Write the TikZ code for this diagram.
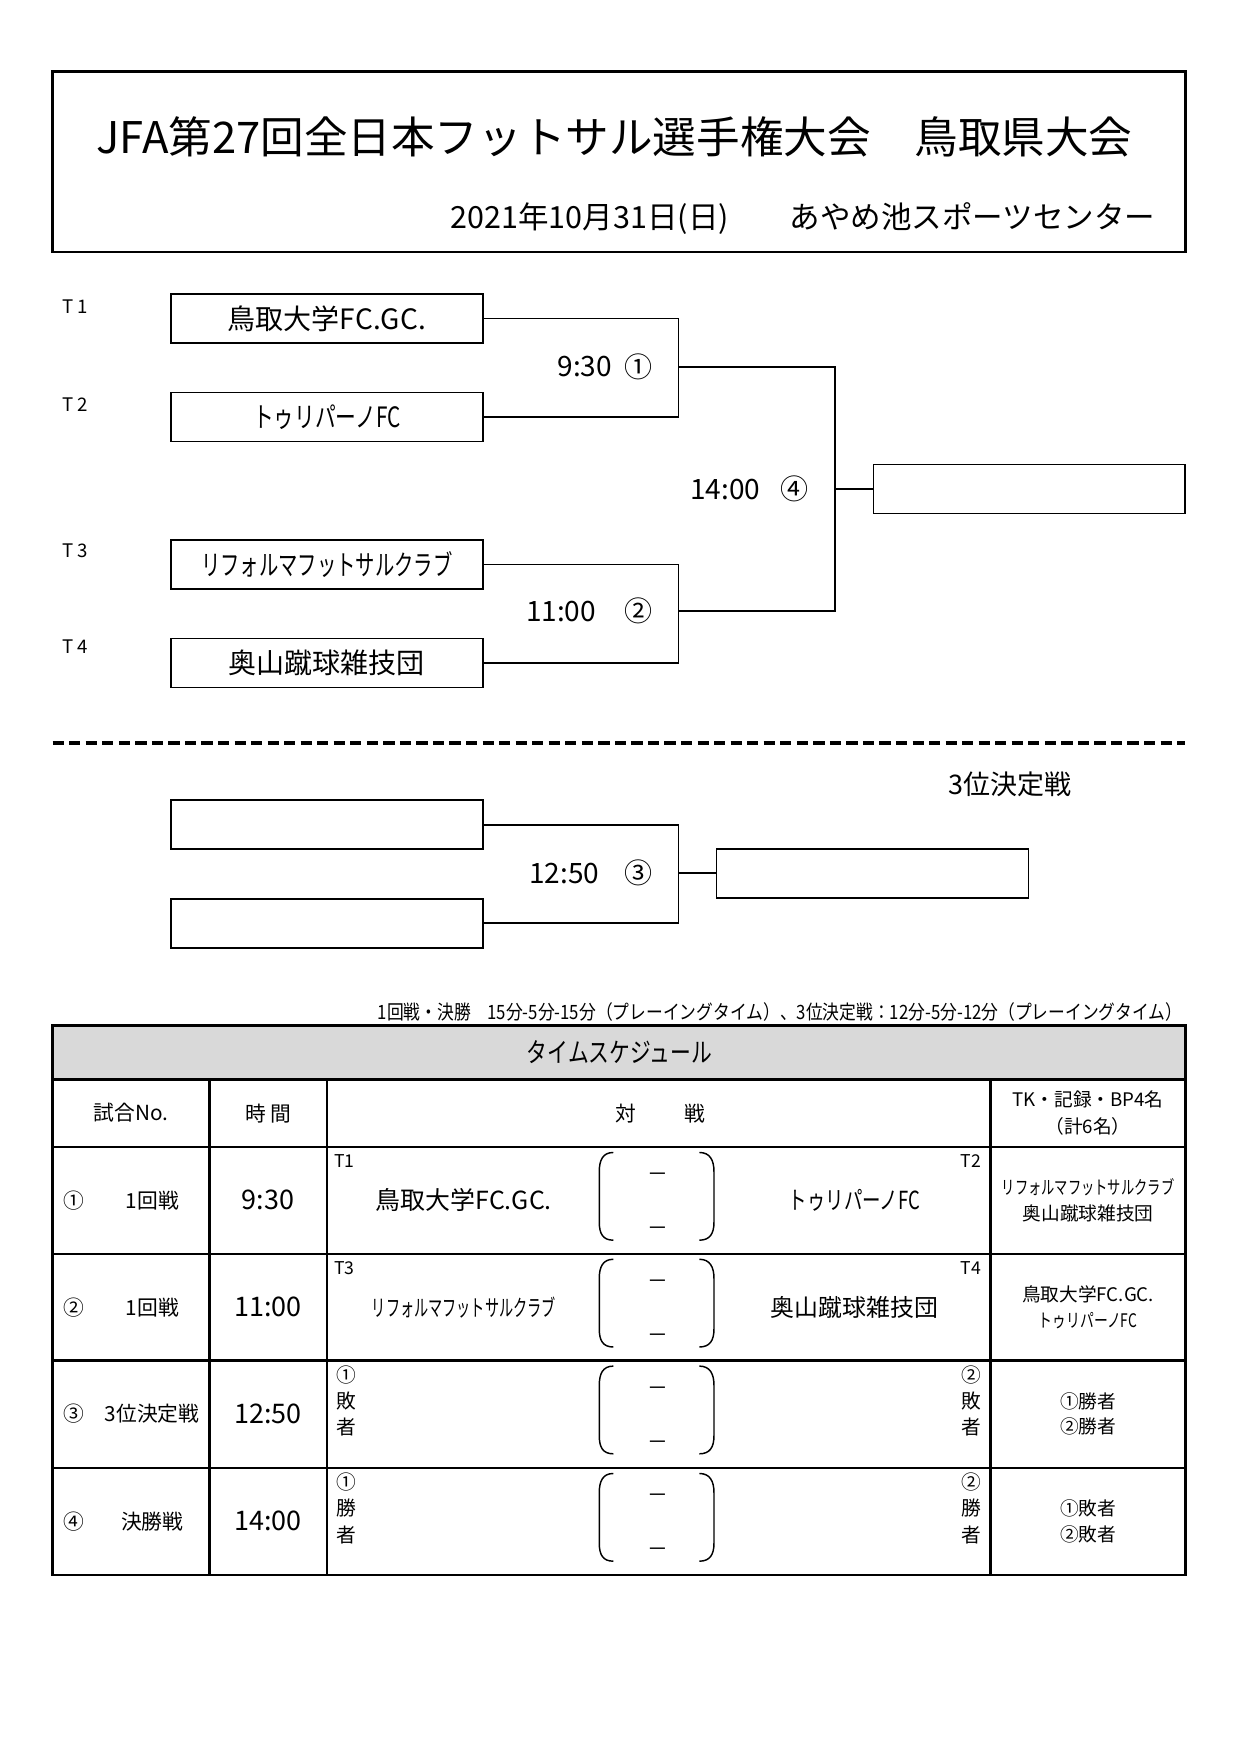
\documentclass[tikz,border=0pt]{standalone}
\usepackage{fontspec}
\setmainfont{Noto Sans CJK JP}
\usepackage{graphicx}
\usetikzlibrary{positioning}
\tikzset{
  teambox/.style={draw,line width=0.8pt,minimum width=52.8mm,minimum height=8.3mm,inner sep=0pt,font=\fontsize{13.5}{16}\selectfont},
  seedlabel/.style={anchor=west,inner sep=0pt,font=\fontsize{8.5}{10}\selectfont},
  slot/.style={inner sep=0pt,font=\fontsize{13.5}{16}\selectfont},
  tie/.style={line width=0.8pt},
  gridline/.style={line width=1.1pt},
  paren/.style={line width=0.7pt},
  cell/.style={inner sep=0pt,font=\fontsize{10}{12}\selectfont},
  timecell/.style={inner sep=0pt,font=\fontsize{13}{15}\selectfont},
  teamcell/.style={inner sep=0pt,font=\fontsize{12}{14}\selectfont},
  dutycell/.style={inner sep=0pt,align=center,font=\fontsize{9}{12.4}\selectfont},
  sidecell/.style={inner sep=0pt,align=center,font=\fontsize{9.5}{12.7}\selectfont},
  scorepair/.pic={
    \draw[paren] (545.5,5) .. controls (536,5) and (533,12) .. (533,22)
      -- (533,67) .. controls (533,77) and (536,83) .. (545.5,83);
    \draw[paren] (622,5) .. controls (631.5,5) and (635,12) .. (635,22)
      -- (635,67) .. controls (635,77) and (631.5,83) .. (622,83);
    \node[cell] (up) at (585.4,27) {－};
    \node[cell] (down) at (585.4,75) {－};
  }
}
\newcommand{\narrowtxt}[2]{\scalebox{#1}[1]{#2}}

\begin{document}
\begin{tikzpicture}[x=0.19039mm,y=-0.19039mm,node distance=8.1mm]
  \useasboundingbox (0,0) rectangle (1103,1560);

  % heading
  \node[draw,line width=1.3pt,minimum width=191.8mm,minimum height=30.5mm] (head) at (550.6,143.9) {};
  \node[font=\fontsize{21}{25}\selectfont] (title) at (546.5,121.5) {JFA第27回全日本フットサル選手権大会　鳥取県大会};
  \node[anchor=east,inner sep=0pt,font=\fontsize{14.7}{17}\selectfont] (venue) at (1028,194) {2021年10月31日(日)　　あやめ池スポーツセンター};

  % bracket
  \node[teambox] (t1) at (290.7,283.2) {鳥取大学FC.GC.};
  \node[teambox,below=of t1] (t2) {\narrowtxt{0.74}{トゥリパーノFC}};
  \node[teambox,below=16.4mm of t2] (t3) {\narrowtxt{0.69}{リフォルマフットサルクラブ}};
  \node[teambox,below=of t3] (t4) {奥山蹴球雑技団};
  \node[seedlabel,font=\fontsize{9}{10}\selectfont] (s1) at (55,273) {T 1};
  \node[seedlabel,font=\fontsize{9}{10}\selectfont] (s2) at (55,359.5) {T 2};
  \node[seedlabel,font=\fontsize{9}{10}\selectfont] (s3) at (55,489.5) {T 3};
  \node[seedlabel,font=\fontsize{9}{10}\selectfont] (s4) at (55,575) {T 4};
  \coordinate (m1) at (603.3,326.3);
  \coordinate (m2) at (603.3,543.5);
  \coordinate (f) at (742.7,435);
  \node[teambox] (champ) at (915.4,435) {};
  \draw[tie] (t1.east) -| (m1) |- (t2.east);
  \draw[tie] (t3.east) -| (m2) |- (t4.east);
  \draw[tie] (m1) -| (f) |- (m2);
  \draw[tie] (f) -- (champ.west);
  \node[slot] (time1) at (520,326.3) {9:30};
  \node[slot] (game1) at (568,326.3) {①};
  \node[slot] (time2) at (499,543.5) {11:00};
  \node[slot] (game2) at (568,543.5) {②};
  \node[slot] (time4) at (645,435) {14:00};
  \node[slot] (game4) at (707,435) {④};

  \coordinate (cutL) at (46.8,660.5);
  \coordinate (cutR) at (1054.3,660.5);
  \draw[line width=1.8pt,dash pattern=on 1.9mm off 0.9mm] (cutL) -- (cutR);

  % third place
  \node[font=\fontsize{13}{15}\selectfont] (thirdtitle) at (898,697.5) {3位決定戦};
  \node[teambox] (p1) at (290.7,733.5) {};
  \node[teambox,below=of p1] (p2) {};
  \coordinate (m3) at (603.3,776.6);
  \node[teambox] (third) at (776,776.6) {};
  \draw[tie] (p1.east) -| (m3) |- (p2.east);
  \draw[tie] (m3) -- (third.west);
  \node[slot] (time3) at (502,776.6) {12:50};
  \node[slot] (game3) at (568,776.6) {③};

  % schedule
  \node[anchor=east,inner sep=0pt,font=\fontsize{9.5}{11}\selectfont] (rules) at (1052,900) {\narrowtxt{0.85}{1回戦・決勝　15分-5分-15分（プレーイングタイム）、3位決定戦：12分-5分-12分（プレーイングタイム）}};
  \fill[gray!30] (46.8,912) rectangle (1054.3,960);
  \draw[gridline] (46.8,912) rectangle (1054.3,1401);
  \draw[gridline] (46.8,960) -- (1054.3,960);
  \draw[gridline] (46.8,1020) -- (1054.3,1020);
  \draw[gridline] (46.8,1115) -- (1054.3,1115);
  \draw[gridline] (46.8,1210) -- (1054.3,1210);
  \draw[gridline] (46.8,1305.5) -- (1054.3,1305.5);
  \draw[gridline] (186.2,960) -- (186.2,1401);
  \draw[gridline] (290.7,960) -- (290.7,1401);
  \draw[gridline] (881,960) -- (881,1401);
  \node[font=\fontsize{13}{15}\selectfont] (sched) at (551,936) {\narrowtxt{0.77}{タイムスケジュール}};
  \node[cell] (hno) at (116.5,990) {試合No.};
  \node[cell] (htime) at (238.5,990) {時 間};
  \node[cell] (hmatch) at (587,990) {対\hspace{2.33em}戦};
  \node[dutycell,font=\fontsize{9}{13}\selectfont] (hduty) at (967.7,990) {TK・記録・BP4名\\（計6名）};

  \node[cell] (n1) at (65.7,1067.6) {①};
  \node[cell] (r1) at (135.4,1067.6) {1回戦};
  \node[timecell] (k1) at (238.5,1067.6) {9:30};
  \node[seedlabel] (e1) at (297,1033) {T1};
  \node[teamcell] (h1) at (412.6,1067.6) {鳥取大学FC.GC.};
  \pic (sc1) at (0,1020) {scorepair};
  \node[seedlabel,anchor=east] (w1) at (873,1033) {T2};
  \node[teamcell] (a1) at (760,1067.6) {\narrowtxt{0.74}{トゥリパーノFC}};
  \node[dutycell] (d1) at (967.7,1067.6) {\narrowtxt{0.71}{リフォルマフットサルクラブ}\\奥山蹴球雑技団};

  \node[cell] (n2) at (65.7,1162.6) {②};
  \node[cell] (r2) at (135.4,1162.6) {1回戦};
  \node[timecell] (k2) at (238.5,1162.6) {11:00};
  \node[seedlabel] (e2) at (297,1128) {T3};
  \node[teamcell,font=\fontsize{11}{13}\selectfont] (h2) at (412.6,1162.6) {\narrowtxt{0.62}{リフォルマフットサルクラブ}};
  \pic (sc2) at (0,1115) {scorepair};
  \node[seedlabel,anchor=east] (w2) at (873,1128) {T4};
  \node[teamcell,font=\fontsize{11.5}{13}\selectfont] (a2) at (760,1162.6) {奥山蹴球雑技団};
  \node[dutycell] (d2) at (967.7,1162.6) {鳥取大学FC.GC.\\\narrowtxt{0.74}{トゥリパーノFC}};

  \node[cell] (n3) at (65.7,1257.6) {③};
  \node[cell] (r3) at (135.4,1257.6) {3位決定戦};
  \node[timecell] (k3) at (238.5,1257.6) {12:50};
  \node[sidecell] (h3) at (308,1246) {①\\敗\\者};
  \pic (sc3) at (0,1210) {scorepair};
  \node[sidecell] (a3) at (863.5,1246) {②\\敗\\者};
  \node[dutycell] (d3) at (967.7,1257.6) {①勝者\\②勝者};

  \node[cell] (n4) at (65.7,1353) {④};
  \node[cell] (r4) at (135.4,1353) {決勝戦};
  \node[timecell] (k4) at (238.5,1353) {14:00};
  \node[sidecell] (h4) at (308,1341.5) {①\\勝\\者};
  \pic (sc4) at (0,1305.5) {scorepair};
  \node[sidecell] (a4) at (863.5,1341.5) {②\\勝\\者};
  \node[dutycell] (d4) at (967.7,1353) {①敗者\\②敗者};
\end{tikzpicture}
\end{document}
